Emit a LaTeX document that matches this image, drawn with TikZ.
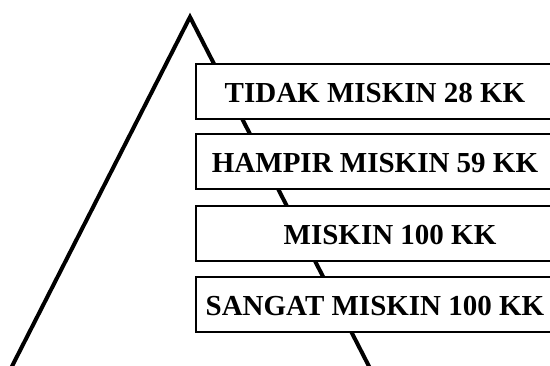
\documentclass[tikz,border=0pt]{standalone}
\usepackage{fontspec}
\setmainfont{Liberation Serif}
\begin{document}
\begin{tikzpicture}[x=1pt,y=-1pt,
  levelbox/.style={draw=black, line width=2pt, fill=white, anchor=west,
    minimum width=358pt, minimum height=55pt, inner sep=0pt,
    text height=22pt, text depth=0pt,
    font=\fontsize{29}{32}\selectfont\bfseries}]
\clip (0,0) rectangle (550,365);
\coordinate (apex) at (190,17);
\coordinate (leftfoot) at (5,380);
\coordinate (rightfoot) at (376,380);
\draw[line width=4pt, line join=miter] (leftfoot) -- (apex) -- (rightfoot);
\node[levelbox] (b1) at (195,91.5) {TIDAK MISKIN 28 KK};
\node[levelbox] (b2) at (195,161) {HAMPIR MISKIN 59 KK};
\node[levelbox] (b3) at (195,233) {\hspace*{30pt}MISKIN 100 KK};
\node[levelbox] (b4) at (195,304.5) {SANGAT MISKIN 100 KK};
\end{tikzpicture}
\end{document}
